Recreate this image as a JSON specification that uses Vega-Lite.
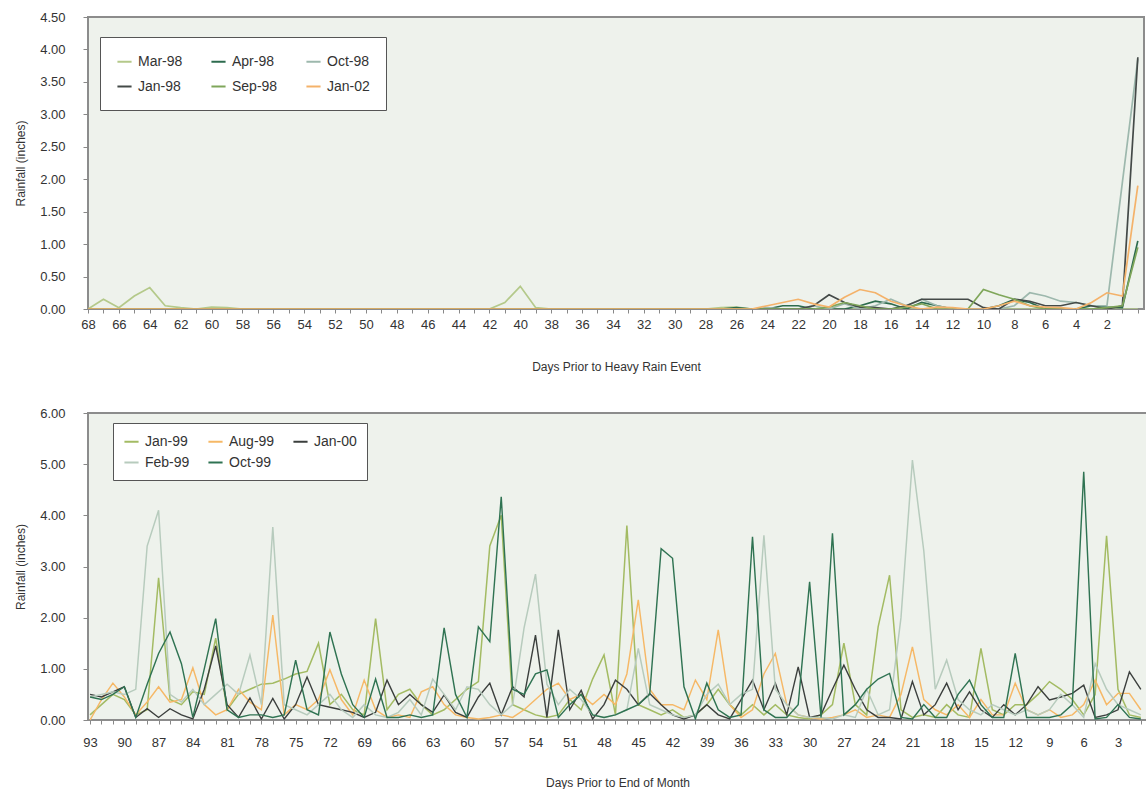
{
"$schema": "https://vega.github.io/schema/vega-lite/v6.json",
"background": "white",
"padding": {"left": 13, "top": 10, "right": 0, "bottom": 0},
"spacing": 104,
"bounds": "flush",
"config": {
  "view": {"stroke": "#8c8c8c", "strokeWidth": 2, "fill": "#eef2ec"},
  "axis": {"labelFont": "Liberation Sans", "titleFont": "Liberation Sans", "labelColor": "#333333", "titleColor": "#333333", "labelFontSize": 13, "titleFontSize": 12, "titleFontWeight": "normal", "grid": false, "tickColor": "#888888", "domain": false, "tickSize": 4, "labelOverlap": false, "labelFlush": false},
  "legend": {"labelFont": "Liberation Sans", "labelFontSize": 14, "labelColor": "#333333", "symbolType": "stroke", "symbolStrokeWidth": 2, "symbolSize": 200, "strokeColor": "#555555", "fillColor": "white", "labelOffset": 5, "cornerRadius": 0}
},
"resolve": {"scale": {"color": "independent", "x": "independent", "y": "independent"}, "legend": {"color": "independent"}},
"vconcat": [
{
  "width": 1056, "height": 292,
  "data": {"values": [
{"d":68,"Mar-98":0,"Apr-98":0,"Oct-98":0,"Jan-98":0,"Sep-98":0,"Jan-02":0},
{"d":67,"Mar-98":0.15,"Apr-98":0,"Oct-98":0,"Jan-98":0,"Sep-98":0,"Jan-02":0},
{"d":66,"Mar-98":0.02,"Apr-98":0,"Oct-98":0,"Jan-98":0,"Sep-98":0,"Jan-02":0},
{"d":65,"Mar-98":0.2,"Apr-98":0,"Oct-98":0,"Jan-98":0,"Sep-98":0,"Jan-02":0},
{"d":64,"Mar-98":0.33,"Apr-98":0,"Oct-98":0,"Jan-98":0,"Sep-98":0,"Jan-02":0},
{"d":63,"Mar-98":0.05,"Apr-98":0,"Oct-98":0,"Jan-98":0,"Sep-98":0,"Jan-02":0},
{"d":62,"Mar-98":0.02,"Apr-98":0,"Oct-98":0,"Jan-98":0,"Sep-98":0,"Jan-02":0},
{"d":61,"Mar-98":0,"Apr-98":0,"Oct-98":0,"Jan-98":0,"Sep-98":0,"Jan-02":0},
{"d":60,"Mar-98":0.03,"Apr-98":0,"Oct-98":0,"Jan-98":0,"Sep-98":0,"Jan-02":0},
{"d":59,"Mar-98":0.02,"Apr-98":0,"Oct-98":0,"Jan-98":0,"Sep-98":0,"Jan-02":0},
{"d":58,"Mar-98":0,"Apr-98":0,"Oct-98":0,"Jan-98":0,"Sep-98":0,"Jan-02":0},
{"d":57,"Mar-98":0,"Apr-98":0,"Oct-98":0,"Jan-98":0,"Sep-98":0,"Jan-02":0},
{"d":56,"Mar-98":0,"Apr-98":0,"Oct-98":0,"Jan-98":0,"Sep-98":0,"Jan-02":0},
{"d":55,"Mar-98":0,"Apr-98":0,"Oct-98":0,"Jan-98":0,"Sep-98":0,"Jan-02":0},
{"d":54,"Mar-98":0,"Apr-98":0,"Oct-98":0,"Jan-98":0,"Sep-98":0,"Jan-02":0},
{"d":53,"Mar-98":0,"Apr-98":0,"Oct-98":0,"Jan-98":0,"Sep-98":0,"Jan-02":0},
{"d":52,"Mar-98":0,"Apr-98":0,"Oct-98":0,"Jan-98":0,"Sep-98":0,"Jan-02":0},
{"d":51,"Mar-98":0,"Apr-98":0,"Oct-98":0,"Jan-98":0,"Sep-98":0,"Jan-02":0},
{"d":50,"Mar-98":0,"Apr-98":0,"Oct-98":0,"Jan-98":0,"Sep-98":0,"Jan-02":0},
{"d":49,"Mar-98":0,"Apr-98":0,"Oct-98":0,"Jan-98":0,"Sep-98":0,"Jan-02":0},
{"d":48,"Mar-98":0,"Apr-98":0,"Oct-98":0,"Jan-98":0,"Sep-98":0,"Jan-02":0},
{"d":47,"Mar-98":0,"Apr-98":0,"Oct-98":0,"Jan-98":0,"Sep-98":0,"Jan-02":0},
{"d":46,"Mar-98":0,"Apr-98":0,"Oct-98":0,"Jan-98":0,"Sep-98":0,"Jan-02":0},
{"d":45,"Mar-98":0,"Apr-98":0,"Oct-98":0,"Jan-98":0,"Sep-98":0,"Jan-02":0},
{"d":44,"Mar-98":0,"Apr-98":0,"Oct-98":0,"Jan-98":0,"Sep-98":0,"Jan-02":0},
{"d":43,"Mar-98":0,"Apr-98":0,"Oct-98":0,"Jan-98":0,"Sep-98":0,"Jan-02":0},
{"d":42,"Mar-98":0,"Apr-98":0,"Oct-98":0,"Jan-98":0,"Sep-98":0,"Jan-02":0},
{"d":41,"Mar-98":0.1,"Apr-98":0,"Oct-98":0,"Jan-98":0,"Sep-98":0,"Jan-02":0},
{"d":40,"Mar-98":0.35,"Apr-98":0,"Oct-98":0,"Jan-98":0,"Sep-98":0,"Jan-02":0},
{"d":39,"Mar-98":0.02,"Apr-98":0,"Oct-98":0,"Jan-98":0,"Sep-98":0,"Jan-02":0},
{"d":38,"Mar-98":0,"Apr-98":0,"Oct-98":0,"Jan-98":0,"Sep-98":0,"Jan-02":0},
{"d":37,"Mar-98":0,"Apr-98":0,"Oct-98":0,"Jan-98":0,"Sep-98":0,"Jan-02":0},
{"d":36,"Mar-98":0,"Apr-98":0,"Oct-98":0,"Jan-98":0,"Sep-98":0,"Jan-02":0},
{"d":35,"Mar-98":0,"Apr-98":0,"Oct-98":0,"Jan-98":0,"Sep-98":0,"Jan-02":0},
{"d":34,"Mar-98":0,"Apr-98":0,"Oct-98":0,"Jan-98":0,"Sep-98":0,"Jan-02":0},
{"d":33,"Mar-98":0,"Apr-98":0,"Oct-98":0,"Jan-98":0,"Sep-98":0,"Jan-02":0},
{"d":32,"Mar-98":0,"Apr-98":0,"Oct-98":0,"Jan-98":0,"Sep-98":0,"Jan-02":0},
{"d":31,"Mar-98":0,"Apr-98":0,"Oct-98":0,"Jan-98":0,"Sep-98":0,"Jan-02":0},
{"d":30,"Mar-98":0,"Apr-98":0,"Oct-98":0,"Jan-98":0,"Sep-98":0,"Jan-02":0},
{"d":29,"Mar-98":0,"Apr-98":0,"Oct-98":0,"Jan-98":0,"Sep-98":0,"Jan-02":0},
{"d":28,"Mar-98":0,"Apr-98":0,"Oct-98":0,"Jan-98":0,"Sep-98":0,"Jan-02":0},
{"d":27,"Mar-98":0.02,"Apr-98":0,"Oct-98":0,"Jan-98":0,"Sep-98":0,"Jan-02":0},
{"d":26,"Mar-98":0.03,"Apr-98":0.02,"Oct-98":0,"Jan-98":0,"Sep-98":0,"Jan-02":0},
{"d":25,"Mar-98":0,"Apr-98":0,"Oct-98":0,"Jan-98":0,"Sep-98":0,"Jan-02":0},
{"d":24,"Mar-98":0,"Apr-98":0,"Oct-98":0.02,"Jan-98":0,"Sep-98":0,"Jan-02":0.05},
{"d":23,"Mar-98":0,"Apr-98":0.05,"Oct-98":0,"Jan-98":0,"Sep-98":0,"Jan-02":0.1},
{"d":22,"Mar-98":0,"Apr-98":0.05,"Oct-98":0,"Jan-98":0,"Sep-98":0,"Jan-02":0.15},
{"d":21,"Mar-98":0,"Apr-98":0,"Oct-98":0.05,"Jan-98":0.05,"Sep-98":0,"Jan-02":0.08},
{"d":20,"Mar-98":0,"Apr-98":0,"Oct-98":0,"Jan-98":0.22,"Sep-98":0.03,"Jan-02":0.03},
{"d":19,"Mar-98":0,"Apr-98":0,"Oct-98":0.08,"Jan-98":0.1,"Sep-98":0.1,"Jan-02":0.18},
{"d":18,"Mar-98":0,"Apr-98":0.05,"Oct-98":0,"Jan-98":0.03,"Sep-98":0.05,"Jan-02":0.3},
{"d":17,"Mar-98":0,"Apr-98":0.12,"Oct-98":0.05,"Jan-98":0.02,"Sep-98":0,"Jan-02":0.25},
{"d":16,"Mar-98":0,"Apr-98":0.08,"Oct-98":0.15,"Jan-98":0,"Sep-98":0,"Jan-02":0.12},
{"d":15,"Mar-98":0,"Apr-98":0,"Oct-98":0.05,"Jan-98":0.05,"Sep-98":0.03,"Jan-02":0.05},
{"d":14,"Mar-98":0,"Apr-98":0.1,"Oct-98":0.15,"Jan-98":0.15,"Sep-98":0.08,"Jan-02":0},
{"d":13,"Mar-98":0,"Apr-98":0.05,"Oct-98":0.05,"Jan-98":0.15,"Sep-98":0,"Jan-02":0.03},
{"d":12,"Mar-98":0,"Apr-98":0,"Oct-98":0,"Jan-98":0.15,"Sep-98":0,"Jan-02":0.02},
{"d":11,"Mar-98":0,"Apr-98":0,"Oct-98":0,"Jan-98":0.15,"Sep-98":0,"Jan-02":0},
{"d":10,"Mar-98":0,"Apr-98":0,"Oct-98":0,"Jan-98":0.02,"Sep-98":0.3,"Jan-02":0},
{"d":9,"Mar-98":0,"Apr-98":0.05,"Oct-98":0,"Jan-98":0,"Sep-98":0.22,"Jan-02":0.05},
{"d":8,"Mar-98":0,"Apr-98":0.15,"Oct-98":0.05,"Jan-98":0.15,"Sep-98":0.15,"Jan-02":0.12},
{"d":7,"Mar-98":0,"Apr-98":0.1,"Oct-98":0.25,"Jan-98":0.12,"Sep-98":0.05,"Jan-02":0.05},
{"d":6,"Mar-98":0,"Apr-98":0,"Oct-98":0.2,"Jan-98":0.05,"Sep-98":0,"Jan-02":0.03},
{"d":5,"Mar-98":0,"Apr-98":0,"Oct-98":0.12,"Jan-98":0.05,"Sep-98":0,"Jan-02":0.02},
{"d":4,"Mar-98":0,"Apr-98":0,"Oct-98":0.1,"Jan-98":0.1,"Sep-98":0,"Jan-02":0},
{"d":3,"Mar-98":0,"Apr-98":0.05,"Oct-98":0.05,"Jan-98":0.05,"Sep-98":0,"Jan-02":0.1},
{"d":2,"Mar-98":0,"Apr-98":0.03,"Oct-98":0.05,"Jan-98":0,"Sep-98":0.02,"Jan-02":0.25},
{"d":1,"Mar-98":0,"Apr-98":0.02,"Oct-98":1.95,"Jan-98":0.05,"Sep-98":0.05,"Jan-02":0.2},
{"d":0,"Mar-98":0,"Apr-98":1.05,"Oct-98":3.85,"Jan-98":3.88,"Sep-98":0.95,"Jan-02":1.9}
  ]},
  "transform": [{"fold": ["Mar-98","Apr-98","Oct-98","Jan-98","Sep-98","Jan-02"], "as": ["series","rain"]}],
  "mark": {"type": "line", "strokeWidth": 1.7, "clip": true},
  "encoding": {
    "x": {"field": "d", "type": "quantitative",
      "scale": {"domain": [-0.4, 68], "reverse": true, "nice": false, "zero": false},
      "axis": {"title": "Days Prior to Heavy Rain Event", "values": [68,67,66,65,64,63,62,61,60,59,58,57,56,55,54,53,52,51,50,49,48,47,46,45,44,43,42,41,40,39,38,37,36,35,34,33,32,31,30,29,28,27,26,25,24,23,22,21,20,19,18,17,16,15,14,13,12,11,10,9,8,7,6,5,4,3,2,1,0],
        "labelExpr": "(datum.value % 2 == 0 && datum.value > 0) ? datum.label : ''", "labelPadding": 5, "titlePadding": 30}},
    "y": {"field": "rain", "type": "quantitative",
      "scale": {"domain": [0, 4.5], "nice": false},
      "axis": {"title": "Rainfall (inches)", "values": [0,0.5,1,1.5,2,2.5,3,3.5,4,4.5], "format": ".2f", "tickSize": 5, "labelPadding": 18, "titlePadding": 12}},
    "color": {"field": "series", "type": "nominal",
      "scale": {"domain": ["Mar-98","Jan-98","Apr-98","Sep-98","Oct-98","Jan-02"], "range": ["#b4c98a","#444a48","#2d6b4e","#7fa65a","#9db8ad","#f4b26a"]},
      "legend": {"title": null, "orient": "none", "legendX": 12, "legendY": 20, "columns": 3, "padding": 16, "rowPadding": 9, "columnPadding": 24}}
  }
},
{
  "width": 1059, "height": 307,
  "data": {"values": [
{"d":93,"Jan-99":0.1,"Aug-99":0,"Jan-00":0.5,"Feb-99":0.45,"Oct-99":0.45},
{"d":92,"Jan-99":0.3,"Aug-99":0.4,"Jan-00":0.45,"Feb-99":0.5,"Oct-99":0.4},
{"d":91,"Jan-99":0.5,"Aug-99":0.72,"Jan-00":0.55,"Feb-99":0.55,"Oct-99":0.5},
{"d":90,"Jan-99":0.4,"Aug-99":0.45,"Jan-00":0.65,"Feb-99":0.5,"Oct-99":0.65},
{"d":89,"Jan-99":0.1,"Aug-99":0.1,"Jan-00":0.05,"Feb-99":0.6,"Oct-99":0.05},
{"d":88,"Jan-99":0.2,"Aug-99":0.35,"Jan-00":0.22,"Feb-99":3.4,"Oct-99":0.7},
{"d":87,"Jan-99":2.78,"Aug-99":0.65,"Jan-00":0.05,"Feb-99":4.1,"Oct-99":1.3},
{"d":86,"Jan-99":0.4,"Aug-99":0.35,"Jan-00":0.22,"Feb-99":0.5,"Oct-99":1.72},
{"d":85,"Jan-99":0.3,"Aug-99":0.4,"Jan-00":0.1,"Feb-99":0.35,"Oct-99":1.1},
{"d":84,"Jan-99":0.55,"Aug-99":1.02,"Jan-00":0.02,"Feb-99":0.6,"Oct-99":0.05},
{"d":83,"Jan-99":0.5,"Aug-99":0.3,"Jan-00":0.6,"Feb-99":0.3,"Oct-99":1.0},
{"d":82,"Jan-99":1.6,"Aug-99":0.1,"Jan-00":1.45,"Feb-99":0.5,"Oct-99":1.98},
{"d":81,"Jan-99":0.2,"Aug-99":0.2,"Jan-00":0.3,"Feb-99":0.7,"Oct-99":0.2},
{"d":80,"Jan-99":0.5,"Aug-99":0.6,"Jan-00":0.05,"Feb-99":0.5,"Oct-99":0.05},
{"d":79,"Jan-99":0.6,"Aug-99":0.35,"Jan-00":0.43,"Feb-99":1.27,"Oct-99":0.1},
{"d":78,"Jan-99":0.7,"Aug-99":0.2,"Jan-00":0.02,"Feb-99":0.3,"Oct-99":0.1},
{"d":77,"Jan-99":0.72,"Aug-99":2.05,"Jan-00":0.42,"Feb-99":3.77,"Oct-99":0.05},
{"d":76,"Jan-99":0.8,"Aug-99":0.1,"Jan-00":0.02,"Feb-99":0.3,"Oct-99":0.1},
{"d":75,"Jan-99":0.9,"Aug-99":0.3,"Jan-00":0.3,"Feb-99":0.2,"Oct-99":1.17},
{"d":74,"Jan-99":0.95,"Aug-99":0.2,"Jan-00":0.84,"Feb-99":0.1,"Oct-99":0.2},
{"d":73,"Jan-99":1.5,"Aug-99":0.4,"Jan-00":0.3,"Feb-99":0.3,"Oct-99":0.1},
{"d":72,"Jan-99":0.3,"Aug-99":0.98,"Jan-00":0.25,"Feb-99":0.5,"Oct-99":1.72},
{"d":71,"Jan-99":0.5,"Aug-99":0.4,"Jan-00":0.2,"Feb-99":0.2,"Oct-99":0.9},
{"d":70,"Jan-99":0.2,"Aug-99":0.1,"Jan-00":0.15,"Feb-99":0.05,"Oct-99":0.3},
{"d":69,"Jan-99":0.1,"Aug-99":0.78,"Jan-00":0.05,"Feb-99":0.3,"Oct-99":0.05},
{"d":68,"Jan-99":1.98,"Aug-99":0.2,"Jan-00":0.15,"Feb-99":0.1,"Oct-99":0.8},
{"d":67,"Jan-99":0.2,"Aug-99":0.05,"Jan-00":0.78,"Feb-99":0.05,"Oct-99":0.05},
{"d":66,"Jan-99":0.5,"Aug-99":0.1,"Jan-00":0.3,"Feb-99":0.15,"Oct-99":0.05},
{"d":65,"Jan-99":0.6,"Aug-99":0.05,"Jan-00":0.5,"Feb-99":0.4,"Oct-99":0.1},
{"d":64,"Jan-99":0.3,"Aug-99":0.55,"Jan-00":0.3,"Feb-99":0.1,"Oct-99":0.05},
{"d":63,"Jan-99":0.1,"Aug-99":0.65,"Jan-00":0.15,"Feb-99":0.8,"Oct-99":0.1},
{"d":62,"Jan-99":0.2,"Aug-99":0.3,"Jan-00":0.49,"Feb-99":0.5,"Oct-99":1.8},
{"d":61,"Jan-99":0.4,"Aug-99":0.1,"Jan-00":0.15,"Feb-99":0.2,"Oct-99":0.5},
{"d":60,"Jan-99":0.6,"Aug-99":0.05,"Jan-00":0.05,"Feb-99":0.65,"Oct-99":0.05},
{"d":59,"Jan-99":0.75,"Aug-99":0.02,"Jan-00":0.45,"Feb-99":0.6,"Oct-99":1.82},
{"d":58,"Jan-99":3.4,"Aug-99":0.05,"Jan-00":0.72,"Feb-99":0.3,"Oct-99":1.53},
{"d":57,"Jan-99":4.0,"Aug-99":0.1,"Jan-00":0.1,"Feb-99":0.1,"Oct-99":4.36},
{"d":56,"Jan-99":0.3,"Aug-99":0.05,"Jan-00":0.65,"Feb-99":0.3,"Oct-99":0.6},
{"d":55,"Jan-99":0.2,"Aug-99":0.2,"Jan-00":0.45,"Feb-99":1.8,"Oct-99":0.5},
{"d":54,"Jan-99":0.1,"Aug-99":0.4,"Jan-00":1.66,"Feb-99":2.85,"Oct-99":0.9},
{"d":53,"Jan-99":0.05,"Aug-99":0.6,"Jan-00":0.05,"Feb-99":0.7,"Oct-99":0.98},
{"d":52,"Jan-99":0.1,"Aug-99":0.72,"Jan-00":1.76,"Feb-99":0.3,"Oct-99":0.05},
{"d":51,"Jan-99":0.4,"Aug-99":0.4,"Jan-00":0.2,"Feb-99":0.6,"Oct-99":0.3},
{"d":50,"Jan-99":0.2,"Aug-99":0.5,"Jan-00":0.58,"Feb-99":0.4,"Oct-99":0.5},
{"d":49,"Jan-99":0.8,"Aug-99":0.3,"Jan-00":0.02,"Feb-99":0.1,"Oct-99":0.1},
{"d":48,"Jan-99":1.27,"Aug-99":0.5,"Jan-00":0.3,"Feb-99":0.05,"Oct-99":0.05},
{"d":47,"Jan-99":0.1,"Aug-99":0.3,"Jan-00":0.78,"Feb-99":0.1,"Oct-99":0.1},
{"d":46,"Jan-99":3.8,"Aug-99":0.9,"Jan-00":0.6,"Feb-99":0.2,"Oct-99":0.2},
{"d":45,"Jan-99":0.3,"Aug-99":2.35,"Jan-00":0.3,"Feb-99":1.4,"Oct-99":0.3},
{"d":44,"Jan-99":0.2,"Aug-99":0.6,"Jan-00":0.52,"Feb-99":0.3,"Oct-99":0.5},
{"d":43,"Jan-99":0.1,"Aug-99":0.3,"Jan-00":0.3,"Feb-99":0.2,"Oct-99":3.35},
{"d":42,"Jan-99":0.2,"Aug-99":0.3,"Jan-00":0.1,"Feb-99":0.1,"Oct-99":3.16},
{"d":41,"Jan-99":0.05,"Aug-99":0.2,"Jan-00":0.02,"Feb-99":0.05,"Oct-99":0.65},
{"d":40,"Jan-99":0.1,"Aug-99":0.78,"Jan-00":0.1,"Feb-99":0.1,"Oct-99":0.02},
{"d":39,"Jan-99":0.3,"Aug-99":0.4,"Jan-00":0.3,"Feb-99":0.5,"Oct-99":0.72},
{"d":38,"Jan-99":0.6,"Aug-99":1.76,"Jan-00":0.1,"Feb-99":0.7,"Oct-99":0.2},
{"d":37,"Jan-99":0.3,"Aug-99":0.3,"Jan-00":0.02,"Feb-99":0.3,"Oct-99":0.05},
{"d":36,"Jan-99":0.1,"Aug-99":0.05,"Jan-00":0.4,"Feb-99":0.5,"Oct-99":0.1},
{"d":35,"Jan-99":0.3,"Aug-99":0.2,"Jan-00":0.78,"Feb-99":0.6,"Oct-99":3.58},
{"d":34,"Jan-99":0.1,"Aug-99":0.9,"Jan-00":0.2,"Feb-99":3.61,"Oct-99":0.2},
{"d":33,"Jan-99":0.3,"Aug-99":1.3,"Jan-00":0.72,"Feb-99":0.6,"Oct-99":0.05},
{"d":32,"Jan-99":0.1,"Aug-99":0.3,"Jan-00":0.1,"Feb-99":0.3,"Oct-99":0.05},
{"d":31,"Jan-99":0.05,"Aug-99":0.1,"Jan-00":1.04,"Feb-99":0.1,"Oct-99":0.3},
{"d":30,"Jan-99":0.02,"Aug-99":0.05,"Jan-00":0.05,"Feb-99":0.05,"Oct-99":2.7},
{"d":29,"Jan-99":0.1,"Aug-99":0.02,"Jan-00":0.1,"Feb-99":0.05,"Oct-99":0.05},
{"d":28,"Jan-99":0.3,"Aug-99":0.05,"Jan-00":0.6,"Feb-99":0.02,"Oct-99":3.65},
{"d":27,"Jan-99":1.5,"Aug-99":0.1,"Jan-00":1.07,"Feb-99":0.1,"Oct-99":0.1},
{"d":26,"Jan-99":0.3,"Aug-99":0.2,"Jan-00":0.6,"Feb-99":0.05,"Oct-99":0.3},
{"d":25,"Jan-99":0.1,"Aug-99":0.05,"Jan-00":0.2,"Feb-99":0.6,"Oct-99":0.6},
{"d":24,"Jan-99":1.82,"Aug-99":0.1,"Jan-00":0.05,"Feb-99":0.1,"Oct-99":0.8},
{"d":23,"Jan-99":2.83,"Aug-99":0.05,"Jan-00":0.05,"Feb-99":0.2,"Oct-99":0.91},
{"d":22,"Jan-99":0.2,"Aug-99":0.5,"Jan-00":0.02,"Feb-99":2.0,"Oct-99":0.05},
{"d":21,"Jan-99":0.05,"Aug-99":1.43,"Jan-00":0.75,"Feb-99":5.08,"Oct-99":0.02},
{"d":20,"Jan-99":0.1,"Aug-99":0.4,"Jan-00":0.1,"Feb-99":3.3,"Oct-99":0.3},
{"d":19,"Jan-99":0.05,"Aug-99":0.2,"Jan-00":0.3,"Feb-99":0.6,"Oct-99":0.05},
{"d":18,"Jan-99":0.3,"Aug-99":0.1,"Jan-00":0.72,"Feb-99":1.17,"Oct-99":0.05},
{"d":17,"Jan-99":0.1,"Aug-99":0.3,"Jan-00":0.2,"Feb-99":0.4,"Oct-99":0.5},
{"d":16,"Jan-99":0.05,"Aug-99":0.05,"Jan-00":0.55,"Feb-99":0.2,"Oct-99":0.78},
{"d":15,"Jan-99":1.4,"Aug-99":0.4,"Jan-00":0.2,"Feb-99":0.1,"Oct-99":0.3},
{"d":14,"Jan-99":0.2,"Aug-99":0.1,"Jan-00":0.05,"Feb-99":0.3,"Oct-99":0.05},
{"d":13,"Jan-99":0.1,"Aug-99":0.1,"Jan-00":0.3,"Feb-99":0.2,"Oct-99":0.05},
{"d":12,"Jan-99":0.3,"Aug-99":0.72,"Jan-00":0.1,"Feb-99":0.1,"Oct-99":1.3},
{"d":11,"Jan-99":0.3,"Aug-99":0.2,"Jan-00":0.3,"Feb-99":0.2,"Oct-99":0.05},
{"d":10,"Jan-99":0.5,"Aug-99":0.1,"Jan-00":0.65,"Feb-99":0.1,"Oct-99":0.05},
{"d":9,"Jan-99":0.75,"Aug-99":0.2,"Jan-00":0.39,"Feb-99":0.2,"Oct-99":0.05},
{"d":8,"Jan-99":0.6,"Aug-99":0.05,"Jan-00":0.45,"Feb-99":0.5,"Oct-99":0.1},
{"d":7,"Jan-99":0.4,"Aug-99":0.1,"Jan-00":0.52,"Feb-99":0.3,"Oct-99":0.3},
{"d":6,"Jan-99":0.1,"Aug-99":0.3,"Jan-00":0.68,"Feb-99":0.05,"Oct-99":4.85},
{"d":5,"Jan-99":0.5,"Aug-99":0.78,"Jan-00":0.05,"Feb-99":1.1,"Oct-99":0.02},
{"d":4,"Jan-99":3.6,"Aug-99":0.3,"Jan-00":0.1,"Feb-99":0.6,"Oct-99":0.05},
{"d":3,"Jan-99":0.6,"Aug-99":0.52,"Jan-00":0.2,"Feb-99":0.3,"Oct-99":0.3},
{"d":2,"Jan-99":0.1,"Aug-99":0.52,"Jan-00":0.94,"Feb-99":0.2,"Oct-99":0.05},
{"d":1,"Jan-99":0.05,"Aug-99":0.2,"Jan-00":0.6,"Feb-99":0.1,"Oct-99":0.02}
  ]},
  "transform": [{"fold": ["Jan-99","Aug-99","Jan-00","Feb-99","Oct-99"], "as": ["series","rain"]}],
  "mark": {"type": "line", "clip": true},
  "encoding": {
    "x": {"field": "d", "type": "quantitative",
      "scale": {"domain": [0.46, 93.18], "reverse": true, "nice": false, "zero": false},
      "axis": {"title": "Days Prior to End of Month", "values": [93,92,91,90,89,88,87,86,85,84,83,82,81,80,79,78,77,76,75,74,73,72,71,70,69,68,67,66,65,64,63,62,61,60,59,58,57,56,55,54,53,52,51,50,49,48,47,46,45,44,43,42,41,40,39,38,37,36,35,34,33,32,31,30,29,28,27,26,25,24,23,22,21,20,19,18,17,16,15,14,13,12,11,10,9,8,7,6,5,4,3,2,1],
        "labelExpr": "(datum.value % 3 == 0) ? datum.label : ''", "labelPadding": 12, "titlePadding": 28}},
    "y": {"field": "rain", "type": "quantitative",
      "scale": {"domain": [0, 6], "nice": false},
      "axis": {"title": "Rainfall (inches)", "values": [0,1,2,3,4,5,6], "format": ".2f", "tickSize": 5, "labelPadding": 18, "titlePadding": 12}},
    "color": {"field": "series", "type": "nominal",
      "scale": {"domain": ["Jan-99","Feb-99","Aug-99","Oct-99","Jan-00"], "range": ["#a3bb63","#b7cbbd","#f6b866","#2f7352","#3b3f3d"]},
      "legend": {"title": null, "orient": "none", "legendX": 25, "legendY": 10, "columns": 3, "padding": 10, "rowPadding": 5, "columnPadding": 14}},
    "strokeWidth": {"field": "series", "type": "nominal",
      "scale": {"domain": ["Jan-99","Feb-99","Aug-99","Oct-99","Jan-00"], "range": [1.5, 1.4, 2.2, 2.4, 2]},
      "legend": null}
  }
}
]
}
